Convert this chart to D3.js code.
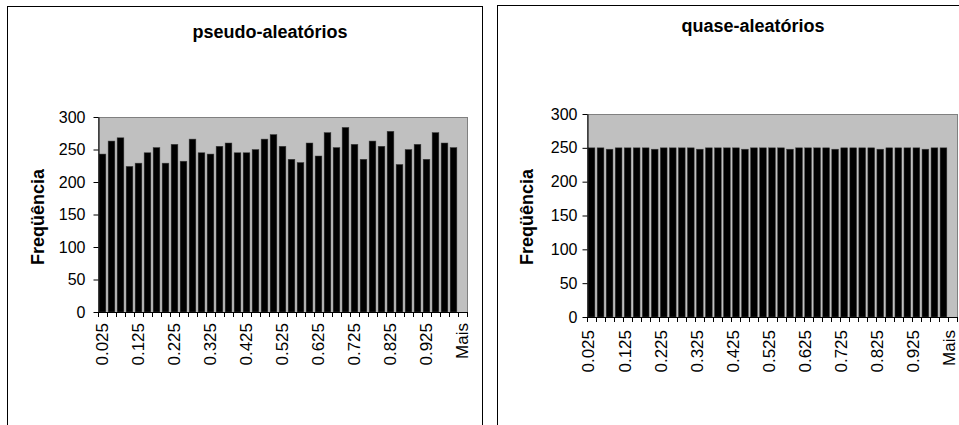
<!DOCTYPE html>
<html>
<head>
<meta charset="utf-8">
<script src="https://cdn.jsdelivr.net/npm/d3@7"></script>
<style>
  html, body { margin: 0; padding: 0; background: #fff; }
  svg { display: block; font-family: "Liberation Sans", Arial, sans-serif; }
</style>
</head>
<body>
<svg id="chart" width="959" height="425"></svg>
<script>
// ---- data ----
const categories = ["0.025","0.05","0.075","0.1","0.125","0.15","0.175","0.2","0.225","0.25",
  "0.275","0.3","0.325","0.35","0.375","0.4","0.425","0.45","0.475","0.5",
  "0.525","0.55","0.575","0.6","0.625","0.65","0.675","0.7","0.725","0.75",
  "0.775","0.8","0.825","0.85","0.875","0.9","0.925","0.95","0.975","1","Mais"];
const shownLabels = ["0.025","0.125","0.225","0.325","0.425","0.525","0.625","0.725","0.825","0.925","Mais"];
const pseudoValues = [243,263,268,224,229,245,253,229,258,232,266,245,243,255,260,245,245,250,266,273,
  255,235,230,260,240,276,253,284,258,235,263,255,278,227,250,258,235,276,260,253,0];
const quasiValues = [250,250,248,250,250,250,250,248,250,250,250,250,248,250,250,250,250,248,250,250,
  250,250,248,250,250,250,250,248,250,250,250,250,248,250,250,250,250,248,250,250,0];
const yTicks = [0,50,100,150,200,250,300];
const titles = ["pseudo-aleatórios","quase-aleatórios"];
const yTitle = "Freqüência";

// ---- layout ----
const panels = [
  { title: titles[0], values: pseudoValues, box: [7, 6, 475, 440],
    x0: 98, x1: 467, y0: 117, y1: 312, titleX: 270, titleY: 38, yTitleX: 44, yTitleY: 217, tickPad: 8, xLabOff: 11, xLabDy: "0.3em" },
  { title: titles[1], values: quasiValues, box: [497, 5, 480, 440],
    x0: 587, x1: 957, y0: 114, y1: 317, titleX: 753, titleY: 32, yTitleX: 533, yTitleY: 217, tickPad: 5, xLabOff: 13, xLabDy: "0.17em" }
];

const svg = d3.select("#chart");

panels.forEach(p => {
  const g = svg.append("g");
  // chart area border
  g.append("rect")
    .attr("x", p.box[0] + 0.5).attr("y", p.box[1] + 0.5)
    .attr("width", p.box[2]).attr("height", p.box[3])
    .attr("fill", "#fff").attr("stroke", "#000").attr("stroke-width", 1);

  const x = d3.scaleBand().domain(categories).range([p.x0, p.x1])
    .paddingInner(0.25).paddingOuter(0.125);
  const y = d3.scaleLinear().domain([0, 300]).range([p.y1, p.y0]);

  // plot area
  g.append("rect")
    .attr("x", p.x0 + 0.5).attr("y", y(300) + 0.5)
    .attr("width", p.x1 - p.x0).attr("height", y(0) - y(300))
    .attr("fill", "#c0c0c0").attr("stroke", "#808080").attr("stroke-width", 1);

  // bars
  g.append("g").selectAll("rect")
    .data(categories.map((c, i) => ({ c, v: p.values[i] })))
    .join("rect")
    .attr("x", d => x(d.c))
    .attr("y", d => y(d.v))
    .attr("width", x.bandwidth())
    .attr("height", d => y(0) - y(d.v))
    .attr("fill", "#000")
    .attr("stroke", "#404040").attr("stroke-width", 0.5);

  // y axis
  const yAxis = d3.axisLeft(y).tickValues(yTicks).tickSize(5).tickPadding(p.tickPad).tickSizeOuter(0);
  const ya = g.append("g").attr("transform", `translate(${p.x0 + 0.5},0)`).call(yAxis);
  ya.select(".domain").attr("stroke", "#000");
  ya.selectAll(".tick line").attr("stroke", "#000");
  ya.selectAll(".tick text").attr("font-size", 16).attr("fill", "#000")
    .attr("font-family", "'Liberation Sans', Arial, sans-serif");

  // x axis
  const step = x.step();
  const half = step * x.paddingInner() / 2;
  const xa = g.append("g");
  xa.append("line")
    .attr("x1", p.x0).attr("x2", p.x1 + 0.5)
    .attr("y1", y(0) + 0.5).attr("y2", y(0) + 0.5)
    .attr("stroke", "#000");
  const bounds = categories.map(c => x(c) - half).concat([x(categories[categories.length - 1]) + x.bandwidth() + half]);
  xa.selectAll("line.tk").data(bounds).join("line").attr("class", "tk")
    .attr("x1", d => Math.round(d) + 0.5).attr("x2", d => Math.round(d) + 0.5)
    .attr("y1", y(0)).attr("y2", y(0) + 5)
    .attr("stroke", "#000");
  xa.selectAll("text").data(shownLabels).join("text")
    .attr("transform", d => `translate(${x(d) + x.bandwidth() / 2},${y(0) + p.xLabOff}) rotate(-90)`)
    .attr("text-anchor", "end").attr("dy", p.xLabDy)
    .attr("font-size", 17).attr("fill", "#000")
    .text(d => d);

  // titles
  g.append("text").attr("x", p.titleX).attr("y", p.titleY)
    .attr("text-anchor", "middle").attr("font-weight", "bold").attr("font-size", 18)
    .text(p.title);
  g.append("text")
    .attr("transform", `translate(${p.yTitleX},${p.yTitleY}) rotate(-90)`)
    .attr("text-anchor", "middle").attr("font-weight", "bold").attr("font-size", 18)
    .text(yTitle);
});
</script>
</body>
</html>
